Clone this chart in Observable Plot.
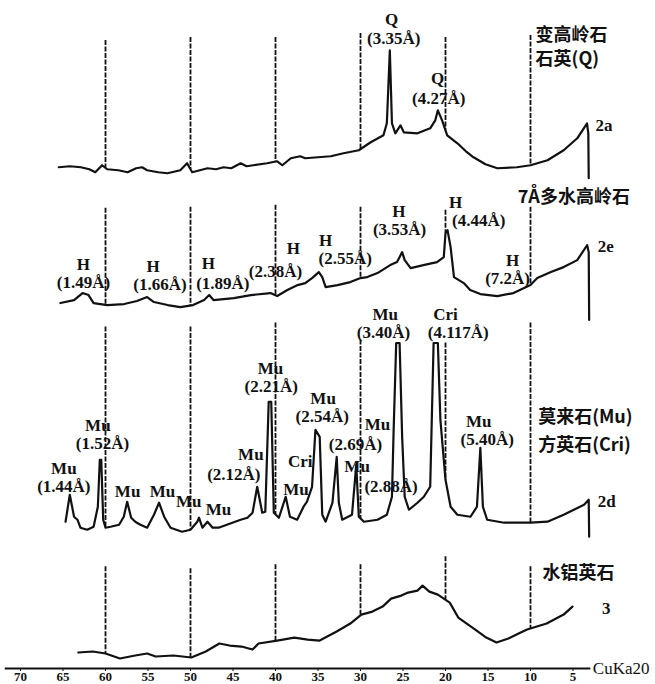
<!DOCTYPE html>
<html><head><meta charset="utf-8">
<script src="https://cdn.jsdelivr.net/npm/d3@7"></script>
<script src="https://cdn.jsdelivr.net/npm/@observablehq/plot@0.6"></script>
<style>html,body{margin:0;padding:0;background:#fff}#chart svg{display:block}</style>
</head><body><div id="chart"></div>
<script>
// 2θ (degrees) and relative intensity
const trace2a = [[65.5,502],[64.2,503],[62.9,502],[61.9,500],[61.2,497],[60.4,504],[59.8,500],[58.5,499],[57.4,497],[56.4,501],[55.7,502],[55.1,499],[53.8,497],[52.7,496],[51.2,499],[50.4,506],[49.8,497],[48.0,501],[47.0,500],[46.1,502],[45.2,501],[44.1,506],[43.4,503],[42.6,504],[41.0,506],[39.8,508],[39.2,504],[38.2,511],[37.1,513],[36.5,511],[35.0,512],[33.5,513],[32.0,516],[30.2,519],[28.8,527],[27.3,534],[26.9,546],[26.55,619],[26.3,546],[25.9,536],[25.3,544],[24.9,537],[23.3,536],[21.8,541],[21.2,549],[20.9,559],[20.4,549],[19.8,534],[18.6,526],[17.6,518],[16.7,512],[15.3,505],[13.9,501],[11.6,502],[10.0,504],[8.0,509],[6.1,519],[4.5,531],[3.35,546],[3.2,536],[3.15,491]];
const trace2e = [[65.3,366],[63.7,369],[62.7,376],[62.0,374],[61.4,366],[59.8,364],[57.8,365],[56.3,368],[55.1,372],[54.3,367],[52.7,364],[51.2,362],[49.7,364],[48.4,369],[47.8,374],[47.3,369],[44.9,371],[42.9,374],[40.6,376],[39.8,373],[38.6,379],[37.4,384],[36.5,386],[35.7,391],[34.9,397],[34.5,392],[34.1,382],[32.7,384],[31.2,387],[30.0,391],[29.2,392],[28.0,396],[26.5,404],[25.7,407],[25.1,417],[24.8,409],[24.1,401],[22.6,404],[21.0,407],[20.2,412],[20.0,436],[19.76,439],[19.4,422],[19.0,392],[17.85,386],[17.1,379],[15.9,375],[13.9,373],[12.0,376],[10.0,384],[9.2,391],[7.6,397],[6.1,402],[4.5,409],[3.33,424],[3.15,417],[3.1,349]];
const trace2d = [[64.7,147],[64.2,174],[63.7,152],[63.3,149],[62.95,141],[62.15,139],[61.4,142],[60.9,162],[60.67,209],[60.5,209],[60.27,149],[60.0,141],[59.4,142],[58.4,144],[57.85,152],[57.45,167],[56.98,151],[56.5,147],[55.9,144],[55.1,141],[54.3,154],[53.7,166],[53.1,152],[52.35,141],[51.0,137],[50.0,139],[49.2,147],[49.0,151],[48.6,141],[48.0,147],[47.4,141],[46.7,141],[44.1,149],[43.3,151],[42.7,156],[42.15,182],[41.56,156],[41.2,157],[40.8,267],[40.5,267],[40.2,156],[39.6,151],[38.8,172],[38.3,152],[37.45,149],[36.7,162],[36.3,167],[35.7,182],[35.3,239],[34.8,232],[34.5,154],[34.1,147],[33.3,166],[32.8,212],[32.55,166],[32.15,149],[31.0,154],[30.5,204],[30.2,152],[29.6,147],[28.0,149],[26.9,154],[26.3,172],[26.1,239],[25.8,326],[25.4,326],[25.1,232],[24.8,172],[24.3,159],[23.3,166],[22.55,172],[21.8,182],[21.4,326],[20.9,326],[20.6,249],[20.0,189],[19.4,162],[18.6,154],[17.06,152],[16.3,162],[15.9,221],[15.6,162],[15.1,149],[13.1,146],[10.0,146],[8.0,147],[6.1,154],[3.7,164],[3.15,169],[3.1,132]];
const trace3 = [[63.2,16],[61.5,17],[60.0,15],[58.3,10],[56.5,13],[55.1,15],[54.1,12],[52.0,13],[49.9,11],[48.2,17],[46.6,25],[45.4,23],[44.0,22],[42.7,19],[42.0,25],[39.8,28],[37.8,31],[36.2,29],[34.8,28],[32.8,37],[31.2,45],[29.9,54],[28.6,57],[27.4,62],[26.4,70],[25.2,73],[24.4,76],[23.3,78],[22.7,83],[21.9,77],[20.9,74],[19.5,66],[18.5,51],[17.5,45],[16.5,39],[15.2,31],[14.0,26],[12.6,30],[11.4,35],[10.4,39],[8.1,45],[6.1,54],[5.06,62]];

const traces = [
  {name: "2a", pts: trace2a},
  {name: "2e", pts: trace2e},
  {name: "2d", pts: trace2d},
  {name: "3", pts: trace3}
];

// dashed guide lines at 2θ = 60..10, with their upper end per trace
const guideAngles = [60, 50, 40, 30, 20, 10];
const guideTop2a = [629, 632, 632, 636, 632, 634];
const guideTop2e = [461, 462, 464, 462, 459, 462];
const guideTop2d = [342, 342, 346, 329, 326, 346];
const guideTop3  = [102, 100, 104, 104, 112, 102];

const tickValues = [70, 65, 60, 55, 50, 45, 40, 35, 30, 25, 20, 15, 10, 5];

// peak annotations [text, 2θ, height]
const peakLabels = [
  ["Q", 26.35, 650], ["(3.35Å)", 26.1, 631], ["Q", 20.94, 591], ["(4.27Å)", 20.8, 571],
  ["H", 18.8, 467], ["(4.44Å)", 16.1, 449], ["H", 25.5, 458], ["(3.53Å)", 25.4, 440],
  ["H", 12.1, 409], ["(7.2Å)", 12.7, 391], ["H", 34.1, 429], ["(2.55Å)", 31.8, 411],
  ["H", 37.9, 421], ["(2.38Å)", 40.0, 398], ["H", 47.9, 406], ["(1.89Å)", 46.2, 386],
  ["H", 54.4, 403], ["(1.66Å)", 53.6, 385], ["H", 62.6, 405], ["(1.49Å)", 62.6, 387],
  ["Mu", 27.1, 354], ["(3.40Å)", 27.3, 336], ["Cri", 20.0, 354], ["(4.117Å)", 18.5, 336],
  ["Mu", 16.1, 247], ["(5.40Å)", 15.1, 229], ["Mu", 28.0, 244], ["(2.69Å)", 30.6, 224],
  ["Mu", 34.4, 270], ["(2.54Å)", 34.5, 252], ["Mu", 40.6, 300], ["(2.21Å)", 40.5, 282],
  ["Mu", 42.9, 214], ["(2.12Å)", 44.9, 194], ["Cri", 37.1, 207], ["Mu", 37.6, 179],
  ["Mu", 30.4, 202], ["(2.88Å)", 26.4, 182], ["Mu", 60.9, 243], ["(1.52Å)", 60.35, 225],
  ["Mu", 64.9, 200], ["(1.44Å)", 64.9, 182], ["Mu", 57.4, 177], ["Mu", 53.3, 177],
  ["Mu", 50.2, 167], ["Mu", 46.7, 159]
];
// sample names [text, 2θ, height]
const sampleNames = [
  ["变高岭石", 9.4, 634], ["石英(Q)", 9.4, 610],
  ["7Å多水高岭石", 11.5, 472],
  ["莫来石(Mu)", 9.1, 252], ["方英石(Cri)", 9.1, 224],
  ["水铝英石", 8.6, 95]
];
const sampleCodes = [["2a", 2.35, 544], ["2e", 2.1, 423], ["2d", 2.1, 167], ["3", 1.6, 60]];
const axisLabel = "CuKa20";

function interp(pts, t) {
  for (let i = 0; i < pts.length - 1; i++) {
    const [a, va] = pts[i], [b, vb] = pts[i + 1];
    if (t <= a && t >= b) return a === b ? va : va + (vb - va) * (t - a) / (b - a);
  }
  return pts[pts.length - 1][1];
}

const guides = [];
[[trace2a, guideTop2a], [trace2e, guideTop2e], [trace2d, guideTop2d], [trace3, guideTop3]].forEach(([tr, tops]) => {
  guideAngles.forEach((a, i) => guides.push({x: a, y1: tops[i], y2: interp(tr, a)}));
});

const lineData = traces.flatMap(t => t.pts.map(([x, y]) => ({series: t.name, x, y})));
const toObj = ([text, x, y]) => ({text, x, y});

const serif = "'Liberation Serif', 'DejaVu Serif', serif";
const cjk = "'Noto Sans CJK SC', sans-serif";

const svg = Plot.plot({
  width: 655, height: 684,
  marginLeft: 20, marginRight: 82.5, marginTop: 0, marginBottom: 16,
  style: {background: "#fff", color: "#111"},
  x: {domain: [70, 5], label: null},
  y: {domain: [0, 669], axis: null},
  marks: [
    Plot.ruleX(guides, {x: "x", y1: "y1", y2: "y2", stroke: "#111", strokeWidth: 1.8, strokeDasharray: "5,1.5"}),
    Plot.line(lineData, {x: "x", y: "y", z: "series", stroke: "#111", strokeWidth: 2.2, strokeLinejoin: "round"}),
    Plot.ruleY([0], {x1: 71.8, x2: 2.9, stroke: "#111", strokeWidth: 1.8}),
    Plot.axisX(tickValues, {label: null, tickSize: 3, tickPadding: 0, fontSize: 13, fontFamily: serif, fontWeight: "bold"}),
    Plot.text(peakLabels.map(toObj), {x: "x", y: "y", text: "text", fontSize: 17, fontWeight: "bold", fontFamily: serif, fill: "#111", ariaLabel: "peak"}),
    Plot.text(sampleNames.map(toObj), {x: "x", y: "y", text: "text", textAnchor: "start", fontSize: 18, fontWeight: "bold", fontFamily: cjk, fill: "#111"}),
    Plot.text(sampleCodes.map(toObj), {x: "x", y: "y", text: "text", textAnchor: "start", fontSize: 17, fontWeight: "bold", fontFamily: serif, fill: "#111"}),
    Plot.text([axisLabel], {x: 2.9, y: 0, text: d => d, textAnchor: "start", dx: 2, fontSize: 17, fontFamily: serif, fill: "#111"})
  ]
});
d3.select(svg).selectAll('g[aria-label="peak"] text').style("letter-spacing", "0.6px");
document.getElementById("chart").appendChild(svg);
</script>
</body></html>
